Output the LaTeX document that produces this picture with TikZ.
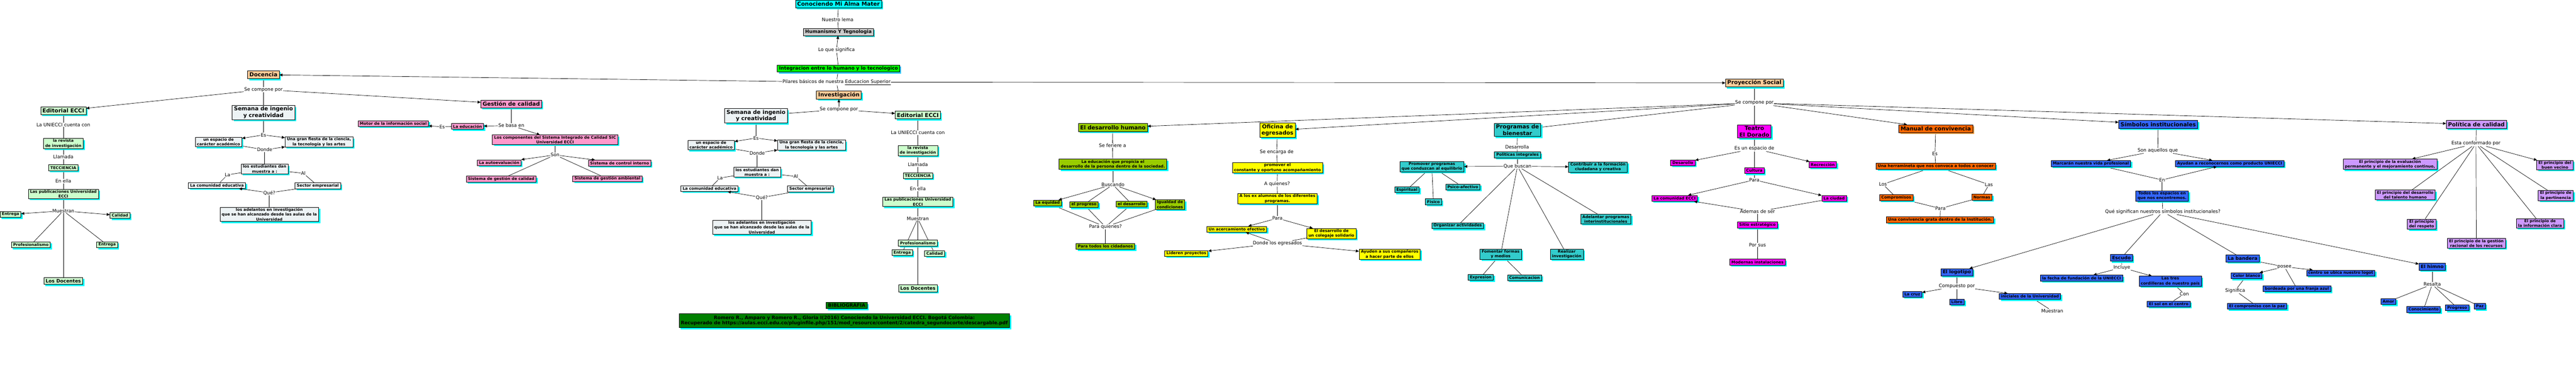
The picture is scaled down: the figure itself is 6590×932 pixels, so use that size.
\documentclass[tikz,border=0pt]{standalone}
\usepackage{fontspec}
\setmainfont{DejaVu Sans}
\usetikzlibrary{arrows.meta,shadows,backgrounds}

\definecolor{cmint}{HTML}{CCFFCC}
\definecolor{cice}{HTML}{EDF3F5}
\definecolor{cpink}{HTML}{FF99CC}
\definecolor{cpeach}{HTML}{FFCC99}
\definecolor{colive}{HTML}{99CC00}
\definecolor{cyel}{HTML}{FFFF00}
\definecolor{cteal}{HTML}{33CCCC}
\definecolor{cmag}{HTML}{FF00FF}
\definecolor{corg}{HTML}{FF6600}
\definecolor{cblue}{HTML}{3366FF}
\definecolor{clav}{HTML}{CC99FF}
\definecolor{cdkg}{HTML}{008000}
\definecolor{clime}{HTML}{00FF00}
\definecolor{cgray}{HTML}{CCCCCC}
\definecolor{ccyan}{HTML}{00FFFF}
\definecolor{shd}{HTML}{00FFFF}
\definecolor{shdteal}{HTML}{33CCCC}
\definecolor{shdsky}{HTML}{33CCFF}
\definecolor{shdorg}{HTML}{FFA54F}

\tikzset{
  cbox/.style={draw, line width=0.9pt, align=center, inner xsep=4.5pt, inner ysep=2pt,
    minimum height=15pt, font=\bfseries\fontsize{10}{12.3}\selectfont,
    drop shadow={shadow xshift=4pt, shadow yshift=-4pt, fill=#1, opacity=1}},
  cbox/.default=shd,
  mid/.style={cbox=#1, font=\bfseries\fontsize{12}{14.5}\selectfont, minimum height=18pt},
  mid/.default=shd,
  big/.style={cbox=#1, font=\bfseries\fontsize{14}{17}\selectfont, minimum height=20pt, inner ysep=3pt},
  big/.default=shd,
  lbl/.style={font=\fontsize{12}{14}\selectfont, inner sep=1pt},
  ln/.style={line width=0.9pt},
  arr/.style={line width=0.9pt, -{Triangle[length=8pt,width=7pt]}},
}

\begin{document}
\begin{tikzpicture}[x=1pt,y=-1pt]
  \useasboundingbox (0,0) rectangle (6590,932);

  % top of the map
  \node[big, fill=ccyan] (alma) at (2145,10) {Conociendo Mi Alma Mater};
  \node[lbl] (lema) at (2143,50) {Nuestro lema};
  \node[mid=shdteal, fill=cgray] (human) at (2145,82) {Humanismo Y Tegnologia};
  \node[lbl] (signif) at (2140,128) {Lo que significa};
  \node[mid=shdsky, fill=clime] (integ) at (2145,175) {Integracion entre lo humano y lo tecnologico};
  \node[lbl] (pilar) at (2140,210) {Pilares básicos de nuestra \underline{Educacion Superior}};

  \node[big, fill=cpeach] (doc) at (674,191) {Docencia};
  \node[lbl] (docSe) at (674,229) {Se compone por};
  \node[big, fill=cpeach] (inv) at (2146,243) {Investigación};
  \node[lbl] (invSe) at (2146,280) {Se compone por};
  \node[big, fill=cpeach] (proy) at (4488,212) {Proyección Social};
  \node[lbl] (proySe) at (4488,263) {Se compone por};

  % editorial, left copy
  \node[big, fill=cmint] (edL) at (162,283) {Editorial ECCI};
  \node[lbl] (edLcu) at (162,319) {La UNIECCI cuenta con};
  \node[cbox, fill=cmint] (revL) at (162,367) {la revista\\de investigación};
  \node[lbl] (llaL) at (162,401) {Llamada};
  \node[cbox, fill=cmint] (tecL) at (162,429) {TECCIENCIA};
  \node[lbl] (ellaL) at (162,463) {En ella};
  \node[cbox, fill=cmint] (pubL) at (162,496) {Las publicaciones Universidad\\ECCI};
  \node[lbl] (mueL) at (162,539) {Muestran};
  \node[cbox, fill=cmint] (entL) at (27,548) {Entrega};
  \node[cbox, fill=cmint] (calL) at (307,551) {Calidad};
  \node[cbox, fill=cmint] (proL) at (79,626) {Profesionalismo};
  \node[cbox, fill=cmint] (entLb) at (274,626) {Entrega};
  \node[mid, fill=cmint] (docL) at (162,718) {Los Docentes};

  % semana, left copy
  \node[big, fill=cice] (semL) at (674,288) {Semana de ingenio\\y creatividad};
  \node[lbl] (esL) at (674,345) {Es};
  \node[cbox, fill=cice] (espL) at (559,363) {un espacio de\\carácter académico};
  \node[cbox, fill=cice] (fieL) at (816,363) {Una gran fiesta de la ciencia,\\la tecnología y las artes};
  \node[lbl] (dondeL) at (677,383) {Donde};
  \node[cbox, fill=cice] (estL) at (677,432) {los estudiantes dan\\muestra a :};
  \node[lbl] (laL) at (582,447) {La};
  \node[lbl] (alL) at (776,443) {Al};
  \node[cbox, fill=cice] (comL) at (555,474) {La comunidad educativa};
  \node[cbox, fill=cice] (secL) at (813,475) {Sector empresarial};
  \node[lbl] (queL) at (689,493) {Qué?};
  \node[cbox, fill=cice] (adeL) at (689,548) {los adelantos en investigación\\que se han alcanzado desde las aulas de la\\Universidad};

  % gestion de calidad
  \node[big, fill=cpink] (gest) at (1308,266) {Gestión de calidad};
  \node[lbl] (basa) at (1308,321) {Se basa en};
  \node[cbox, fill=cpink] (educ) at (1196,323) {La educación};
  \node[lbl] (esG) at (1131,324) {Es};
  \node[cbox, fill=cpink] (motor) at (1006,316) {Motor de la información social};
  \node[cbox, fill=cpink] (comp) at (1420,357) {Los componentes del Sistema Integrado de Calidad SIC\\Universidad ECCI};
  \node[lbl] (son) at (1420,396) {Son};
  \node[cbox, fill=cpink] (auto) at (1277,416) {La autoevaluación};
  \node[cbox, fill=cpink] (ctrl) at (1585,417) {Sistema de control interno};
  \node[cbox, fill=cpink] (sgc) at (1282,458) {Sistema de gestión de calidad};
  \node[cbox, fill=cpink] (sga) at (1554,457) {Sistema de gestión ambiental};

  % semana, copy under investigacion
  \node[big, fill=cice] (semC) at (1934,296) {Semana de ingenio\\y creatividad};
  \node[lbl] (esC) at (1934,353) {Es};
  \node[cbox, fill=cice] (espC) at (1819,371) {un espacio de\\carácter académico};
  \node[cbox, fill=cice] (fieC) at (2076,371) {Una gran fiesta de la ciencia,\\la tecnología y las artes};
  \node[lbl] (dondeC) at (1937,391) {Donde};
  \node[cbox, fill=cice] (estC) at (1937,440) {los estudiantes dan\\muestra a :};
  \node[lbl] (laC) at (1842,455) {La};
  \node[lbl] (alC) at (2036,451) {Al};
  \node[cbox, fill=cice] (comC) at (1815,482) {La comunidad educativa};
  \node[cbox, fill=cice] (secC) at (2073,483) {Sector empresarial};
  \node[lbl] (queC) at (1949,505) {Qué?};
  \node[cbox, fill=cice] (adeC) at (1949,581) {los adelantos en investigación\\que se han alcanzado desde las aulas de la\\Universidad};

  % editorial, copy under investigacion
  \node[big, fill=cmint] (edC) at (2348,294) {Editorial ECCI};
  \node[lbl] (edCcu) at (2348,339) {La UNIECCI cuenta con};
  \node[cbox, fill=cmint] (revC) at (2348,385) {la revista\\de investigación};
  \node[lbl] (llaC) at (2348,421) {Llamada};
  \node[cbox, fill=cmint] (tecC) at (2348,449) {TECCIENCIA};
  \node[lbl] (ellaC) at (2348,483) {En ella};
  \node[cbox, fill=cmint] (pubC) at (2348,516) {Las publicaciones Universidad\\ECCI};
  \node[lbl] (mueC) at (2348,559) {Muestran};
  \node[cbox, fill=cmint] (proC) at (2348,621) {Profesionalismo};
  \node[cbox, fill=cmint] (entC) at (2308,646) {Entrega};
  \node[cbox, fill=cmint] (calC) at (2391,648) {Calidad};
  \node[mid, fill=cmint] (docC) at (2348,737) {Los Docentes};

  % bibliografia
  \node[cbox, fill=cdkg, font=\bfseries\fontsize{12}{14}\selectfont, minimum height=16pt] (bibt) at (2166,781) {BIBLIOGRAFIA};
  \node[cbox, fill=cdkg, font=\bfseries\fontsize{12}{13.5}\selectfont, inner ysep=5pt] (bib) at (2160,820)
    {Romero R., Amparo y Romero R., Gloria I(2016) Conociendo la Universidad ECCI. Bogotá Colombia:\\
     Recuperado de https://aulas.ecci.edu.co/pluginfile.php/151/mod\_resource/content/2/catedra\_segundocorte/descargable.pdf};

  % desarrollo humano
  \node[big, fill=colive] (dh) at (2847,326) {El desarrollo humano};
  \node[lbl] (feri) at (2846,372) {Se feriere a};
  \node[cbox, fill=colive] (edprop) at (2847,420) {La educación que propicia el\\desarrollo de la persona dentro de la sociedad.};
  \node[lbl] (busc) at (2847,472) {Buscando};
  \node[cbox, fill=colive] (equi) at (2680,519) {La equidad};
  \node[cbox, fill=colive] (prog) at (2773,523) {el progreso};
  \node[cbox, fill=colive] (desa) at (2895,522) {el desarrollo};
  \node[cbox, fill=colive] (igual) at (2993,523) {Igualdad de\\condiciones};
  \node[lbl] (paraq) at (2828,580) {Para quienes?};
  \node[cbox, fill=colive] (todos) at (2828,630) {Para todos los cidadanos};

  % oficina de egresados
  \node[big, fill=cyel] (ofi) at (3268,333) {Oficina de\\egresados};
  \node[lbl] (encar) at (3266,389) {Se encarga de};
  \node[cbox, fill=cyel] (promo) at (3268,429) {promover el\\constante y oportuno acompañamiento};
  \node[lbl] (aqui) at (3267,470) {A quienes?};
  \node[cbox, fill=cyel] (exal) at (3268,508) {A los ex alumnos de los diferentes\\programas.};
  \node[lbl] (paraO) at (3268,558) {Para};
  \node[cbox, fill=cyel] (acerc) at (3164,586) {Un acercamiento efectivo};
  \node[cbox, fill=cyel] (coleg) at (3406,597) {El desarrollo de\\un colegaje solidario};
  \node[lbl] (dondeO) at (3268,622) {Donde los egresados};
  \node[cbox, fill=cyel] (lider) at (3035,648) {Lideren proyectos};
  \node[cbox, fill=cyel] (ayud) at (3555,650) {Ayuden a sus compañeros\\a hacer parte de ellos};

  % programas de bienestar
  \node[big, fill=cteal] (pbien) at (3882,332) {Programas de\\bienestar};
  \node[lbl] (desarr) at (3881,376) {Desarrolla};
  \node[cbox, fill=cteal] (polit) at (3882,396) {Politicas integrales};
  \node[lbl] (qbus) at (3882,425) {Que buscan};
  \node[cbox, fill=cteal] (promp) at (3663,426) {Promover programas\\que conduzcan al equilibrio};
  \node[cbox, fill=cteal] (contr) at (4088,427) {Contribuir a la formación\\ciudadana y creativa};
  \node[cbox, fill=cteal] (espir) at (3599,485) {Espiritual};
  \node[cbox, fill=cteal] (fisico) at (3667,516) {Fisico};
  \node[cbox, fill=cteal] (psico) at (3742,478) {Psico-afectivo};
  \node[cbox, fill=cteal] (organ) at (3729,577) {Organizar actividades};
  \node[cbox, fill=cteal] (adel) at (4108,560) {Adelantar programas\\interinstitucionales};
  \node[cbox, fill=cteal] (foment) at (3839,650) {Fomentar formas\\y medios};
  \node[cbox, fill=cteal] (realiz) at (4008,650) {Realizar\\investigación};
  \node[cbox, fill=cteal] (expr) at (3788,709) {Expresion};
  \node[cbox, fill=cteal] (comun) at (3900,710) {Comunicacion};

  % teatro el dorado
  \node[big, fill=cmag] (teatro) at (4488,336) {Teatro\\El Dorado};
  \node[lbl] (espT) at (4488,380) {Es un espacio de};
  \node[cbox, fill=cmag] (desaT) at (4305,416) {Desarollo};
  \node[cbox, fill=cmag] (recr) at (4663,421) {Recrección};
  \node[cbox, fill=cmag] (cult) at (4488,436) {Cultura};
  \node[lbl] (paraT) at (4488,460) {Para};
  \node[cbox, fill=cmag] (comE) at (4284,507) {La comunidad ECCI};
  \node[cbox, fill=cmag] (ciudad) at (4692,507) {La ciudad};
  \node[lbl] (ademas) at (4496,541) {Ademas de ser};
  \node[cbox, fill=cmag] (sitio) at (4496,575) {Sitio estratégico};
  \node[lbl] (porsus) at (4496,626) {Por sus};
  \node[cbox, fill=cmag] (modern) at (4496,670) {Modernas instalaciones};

  % manual de convivencia
  \node[big=shdorg, fill=corg] (manual) at (4952,329) {Manual de convivencia};
  \node[lbl] (esM) at (4950,393) {Es};
  \node[cbox, fill=corg] (herr) at (4952,425) {Una herramineta que nos convoca a todos a conocer};
  \node[lbl] (losM) at (4817,471) {Los};
  \node[lbl] (lasM) at (5088,472) {Las};
  \node[cbox, fill=corg] (compr) at (4851,505) {Compromisos};
  \node[cbox, fill=corg] (normas) at (5070,504) {Normas};
  \node[lbl] (paraM) at (4964,533) {Para};
  \node[cbox, fill=corg] (conviv) at (4963,562) {Una convivencia grata dentro de la Institución.};

  % simbolos institucionales
  \node[big, fill=cblue] (simb) at (5521,318) {Símbolos institucionales};
  \node[lbl] (sonaq) at (5520,385) {Son aquellos que};
  \node[cbox, fill=cblue] (marc) at (5349,418) {Marcarán nuestra vida profesional};
  \node[cbox, fill=cblue] (ayudan) at (5704,418) {Ayudan a reconocernos como producto UNIECCI};
  \node[lbl] (enS) at (5531,460) {En};
  \node[cbox, fill=cblue] (todosE) at (5531,501) {Todos los espacios en\\que nos encontremos.};
  \node[lbl] (quesig) at (5533,541) {Qué significan nuestros símbolos institucionales?};
  \node[mid, fill=cblue] (logo) at (5006,696) {El logotipo};
  \node[lbl] (compu) at (5006,732) {Compuesto por};
  \node[cbox, fill=cblue] (cruz) at (4892,752) {La cruz};
  \node[cbox, fill=cblue] (libro) at (5006,772) {Libro};
  \node[cbox, fill=cblue] (inic) at (5193,758) {iniciales de la Universidad};
  \node[lbl] (muestS) at (5250,795) {Muestran};
  \node[mid, fill=cblue] (escudo) at (5427,659) {Escudo};
  \node[lbl] (incl) at (5428,684) {Incluye};
  \node[cbox, fill=cblue] (fecha) at (5325,711) {la fecha de fundación de la UNIECCI};
  \node[cbox, fill=cblue] (cordi) at (5552,719) {Las tres\\cordilleras de nuestro país};
  \node[lbl] (con) at (5588,751) {Con};
  \node[cbox, fill=cblue] (sol) at (5548,777) {El sol en el centro};
  \node[mid, fill=cblue] (bandera) at (5737,661) {La bandera};
  \node[lbl] (posee) at (5844,682) {posee};
  \node[cbox, fill=cblue] (blanco) at (5747,705) {Color blanco};
  \node[lbl] (signi) at (5718,743) {Significa};
  \node[cbox, fill=cblue] (paz1) at (5774,783) {El compromiso con la paz};
  \node[cbox, fill=cblue] (bord) at (5876,738) {bordeada por una franja azul};
  \node[cbox, fill=cblue] (centro) at (5988,698) {centro se ubica nuestro logot};
  \node[mid, fill=cblue] (himno) at (6222,682) {El himno};
  \node[lbl] (resal) at (6222,727) {Resalta};
  \node[cbox, fill=cblue] (amor) at (6110,771) {Amor};
  \node[cbox, fill=cblue] (conoc) at (6200,791) {Conocimiento};
  \node[cbox, fill=cblue] (progr) at (6286,787) {Progreso};
  \node[cbox, fill=cblue] (paz) at (6344,783) {Paz};

  % politica de calidad
  \node[big, fill=clav] (pol) at (6335,318) {Política de calidad};
  \node[lbl] (conf) at (6334,367) {Esta conformado por};
  \node[cbox, fill=clav] (peval) at (6114,420) {El principio de la evaluación\\permanente y el mejoramiento continuo,};
  \node[cbox, fill=clav] (pvec) at (6536,422) {El principio del\\buen vecino};
  \node[cbox, fill=clav] (ptal) at (6153,498) {El principio del desarrollo\\del talento humano};
  \node[cbox, fill=clav] (ppert) at (6538,500) {El principio de\\la pertinencia};
  \node[cbox, fill=clav] (presp) at (6195,573) {El principio\\del respeto};
  \node[cbox, fill=clav] (pinfo) at (6498,571) {El principio de\\la información clara};
  \node[cbox, fill=clav] (pgest) at (6335,622) {El principio de la gestión\\racional de los recursos};

  \begin{pgfonlayer}{background}
    \fill[white] (0,0) rectangle (6590,932);
    % plain links, under the boxes
    \foreach \a/\b in {alma/lema, lema/human, integ/signif, integ/pilar, pilar/inv,
        doc/docSe, docSe/semL, invSe/semC, proy/proySe, proySe/pbien, proySe/teatro,
        edL/edLcu, edLcu/revL, revL/llaL, llaL/tecL, tecL/ellaL, ellaL/pubL, pubL/mueL,
        mueL/proL, mueL/entLb, mueL/docL,
        edC/edCcu, edCcu/revC, revC/llaC, llaC/tecC, tecC/ellaC, ellaC/pubC, pubC/mueC,
        mueC/proC, mueC/entC, mueC/calC, mueC/docC,
        semL/esL, espL/dondeL, dondeL/estL, estL/laL, laL/comL, estL/alL, alL/secL, secL/queL, queL/adeL,
        semC/esC, espC/dondeC, dondeC/estC, estC/laC, laC/comC, estC/alC, alC/secC, secC/queC, queC/adeC,
        gest/basa, educ/esG, comp/son, son/sgc, son/sga,
        dh/feri, feri/edprop, edprop/busc, busc/prog, busc/desa,
        equi/paraq, prog/paraq, desa/paraq, igual/paraq, paraq/todos,
        ofi/encar, encar/promo, promo/aqui, aqui/exal, exal/paraO, coleg/dondeO,
        pbien/desarr, desarr/polit, polit/qbus, qbus/organ, qbus/foment, qbus/realiz, qbus/adel,
        promp/espir, promp/fisico, promp/psico, foment/expr, foment/comun,
        teatro/espT, espT/cult, cult/paraT, ciudad/ademas, ademas/sitio, sitio/porsus, porsus/modern,
        manual/esM, esM/herr, herr/losM, losM/compr, herr/lasM, lasM/normas,
        compr/paraM, normas/paraM, paraM/conviv,
        simb/sonaq, marc/enS, enS/todosE, todosE/quesig, quesig/escudo, quesig/bandera,
        logo/compu, compu/libro, inic/muestS, escudo/incl, cordi/con, con/sol,
        bandera/posee, posee/bord, blanco/signi, signi/paz1,
        himno/resal, resal/amor, resal/conoc, resal/progr, resal/paz,
        pol/conf, conf/ptal, conf/presp, conf/pgest, conf/pinfo, conf/ppert}
      \draw[ln] (\a) -- (\b);
  \end{pgfonlayer}

  % links with a head
  \foreach \a/\b in {signif/human, pilar/doc, pilar/proy, docSe/edL, docSe/gest, invSe/inv, invSe/edC,
      proySe/dh, proySe/ofi, proySe/manual, proySe/simb, proySe/pol,
      mueL/entL, mueL/calL,
      esL/espL, esL/fieL, dondeL/fieL, queL/comL,
      esC/espC, esC/fieC, dondeC/fieC, queC/comC,
      basa/educ, basa/comp, esG/motor, son/auto, son/ctrl,
      busc/equi, busc/igual,
      paraO/acerc, paraO/coleg, dondeO/acerc, dondeO/lider, dondeO/ayud,
      qbus/promp, qbus/contr,
      espT/desaT, espT/recr, paraT/comE, paraT/ciudad, ademas/comE,
      sonaq/marc, sonaq/ayudan, enS/ayudan, quesig/logo, quesig/himno,
      compu/cruz, compu/inic, incl/fecha, incl/cordi, posee/blanco, posee/centro,
      conf/peval, conf/pvec}
    \draw[arr] (\a) -- (\b);
\end{tikzpicture}
\end{document}
